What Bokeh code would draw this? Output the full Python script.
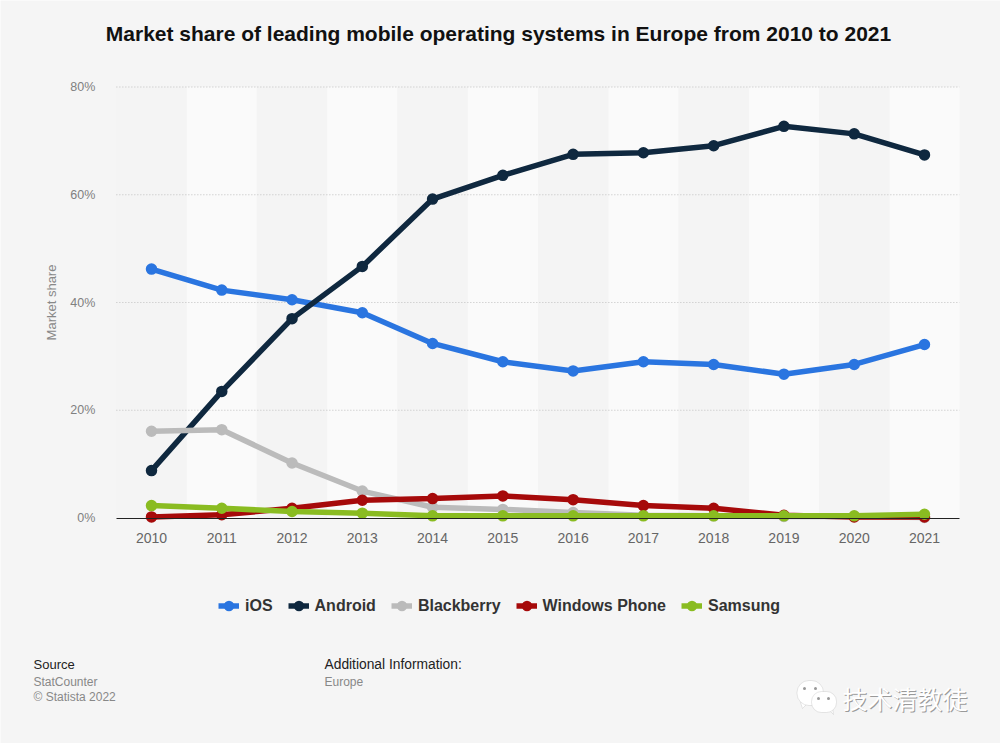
from bokeh.plotting import figure
from bokeh.embed import file_html
from bokeh.resources import INLINE
from bokeh.models import Label, Range1d, FixedTicker, Legend, LegendItem, BoxAnnotation, PolyAnnotation

years = list(range(2010, 2022))
ios = [46.2, 42.3, 40.5, 38.1, 32.4, 29.0, 27.3, 29.0, 28.5, 26.7, 28.5, 32.2]
android = [8.8, 23.5, 37.0, 46.7, 59.2, 63.6, 67.5, 67.8, 69.1, 72.7, 71.3, 67.4]
blackberry = [16.1, 16.4, 10.2, 5.0, 2.0, 1.6, 1.0, 0.5, 0.4, 0.3, 0.3, 0.1]
windows_phone = [0.2, 0.6, 1.8, 3.3, 3.6, 4.1, 3.4, 2.3, 1.8, 0.5, 0.2, 0.2]
samsung = [2.3, 1.8, 1.2, 0.9, 0.4, 0.4, 0.4, 0.4, 0.4, 0.4, 0.4, 0.7]
series = [("iOS", ios, "#2a75e0"), ("Android", android, "#0f283f"), ("Blackberry", blackberry, "#bbbbbb"),
          ("Windows Phone", windows_phone, "#a60a0a"), ("Samsung", samsung, "#8abc21")]
y_ticks = [0, 20, 40, 60, 80]

BG = "#f5f5f5"
FONT = "Liberation Sans"
W, H = 1000, 743
# page pixels of the plot area
X0_PX, X_STEP = 151, 70.27      # pixel of the first year, pixels per year
Y0_PX, Y_STEP = 517.5, 431 / 80  # pixel of 0 %, pixels per percent
LEFT = years[0] - 0.5
RIGHT = years[-1] + 0.5

p = figure(width=W, height=H, output_backend="svg", toolbar_location=None,
           x_range=Range1d(years[0] - X0_PX / X_STEP, years[0] + (W - X0_PX) / X_STEP),
           y_range=Range1d(-(H - Y0_PX) / Y_STEP, Y0_PX / Y_STEP),
           background_fill_color=BG, border_fill_color=BG, outline_line_color=None,
           min_border_left=0, min_border_right=0, min_border_top=0, min_border_bottom=0)

# alternating vertical bands
light = [y for y in years if y % 2 == 1]
dark = [y for y in years if y % 2 == 0]
p.quad(left=[y - .5 for y in light], right=[y + .5 for y in light], bottom=0, top=80,
       fill_color="#fafafa", line_color=None, level="underlay")
p.quad(left=[y - .5 for y in dark], right=[y + .5 for y in dark], bottom=0, top=80,
       fill_color="#f4f4f4", line_color=None, level="underlay")

# dotted grid over the plot area only
p.grid.visible = False
grid_ys = y_ticks[1:]
p.segment(x0=[LEFT] * len(grid_ys), x1=[RIGHT] * len(grid_ys), y0=grid_ys, y1=grid_ys,
          line_color="#c0c0c0", line_dash="1 2", line_width=1, level="underlay")

xa = p.xaxis[0]
xa.ticker = FixedTicker(ticks=years)
xa.fixed_location = 0
xa.bounds = (LEFT, RIGHT)
xa.axis_line_color = "#222222"
xa.axis_line_width = 1
xa.major_tick_line_color = None
xa.minor_tick_line_color = None
xa.major_label_standoff = 9
xa.major_label_text_font = FONT
xa.major_label_text_font_size = "14px"
xa.major_label_text_color = "#666666"

ya = p.yaxis[0]
ya.ticker = FixedTicker(ticks=y_ticks)
ya.fixed_location = LEFT
ya.major_label_overrides = {v: f"{v}%" for v in y_ticks}
ya.axis_line_color = None
ya.major_tick_line_color = None
ya.minor_tick_line_color = None
ya.major_label_standoff = 15
ya.major_label_text_font = FONT
ya.major_label_text_font_size = "12.5px"
ya.major_label_text_color = "#808080"

# series
items = []
for name, vals, col in series:
    l = p.line(years, vals, line_color=col, line_width=5.5)
    c = p.scatter(years, vals, size=9.5, fill_color=col, line_color=col, line_width=2)
    items.append(LegendItem(label=name, renderers=[l, c]))

legend = Legend(items=items, orientation="horizontal", location=(218, H - 606 - 10),
                background_fill_alpha=0, border_line_color=None, glyph_width=21, glyph_height=21,
                label_text_font=FONT, label_text_font_style="bold", label_text_font_size="16px",
                label_text_color="#333333", spacing=15, label_standoff=6, margin=0, padding=0)
p.add_layout(legend, "center")


def lab(text, x, y, size, color, bold=False, align="left", font=FONT, angle=0):
    """x, y: page pixels of the text's anchor."""
    p.add_layout(Label(x=x, y=H - y, x_units="screen", y_units="screen", text=text, text_font=font,
                       text_font_size=f"{size}px", text_color=color, text_align=align, text_baseline="alphabetic",
                       text_font_style="bold" if bold else "normal", angle=angle, angle_units="deg"))


lab("Market share of leading mobile operating systems in Europe from 2010 to 2021", 498, 33, 21, "#111111", True, "center")
lab("Market share", 51, 302, 13, "#888888", False, "center", angle=90)
lab("Source", 33, 664, 13, "#222222")
lab("StatCounter", 33, 681, 12, "#888888")
lab("© Statista 2022", 33, 696, 12, "#888888")
lab("Additional Information:", 324, 664, 13.8, "#222222")
lab("Europe", 324, 681, 12, "#888888")


def box(x0, y0, x1, y1, fill, line="#b0b0b0", r=0):
    p.add_layout(BoxAnnotation(left=x0, right=x1, bottom=H - y1, top=H - y0,
                               left_units="screen", right_units="screen", bottom_units="screen", top_units="screen",
                               fill_color=fill, fill_alpha=1, line_color=line, line_width=1, border_radius=r))


def tail(xs, ys):
    p.add_layout(PolyAnnotation(xs=xs, ys=[H - y for y in ys], xs_units="screen", ys_units="screen",
                                fill_color="#ffffff", fill_alpha=1, line_color="#b0b0b0", line_width=1))


# watermark
lab("技术清教徒", 843, 698, 25, "#9a9a9a", font="Noto Sans CJK SC")
lab("技术清教徒", 842, 697, 25, "#ffffff", font="Noto Sans CJK SC")
tail([800, 802, 808], [702, 708, 702])
box(796.5, 680, 823, 705, "#ffffff", r=12)
tail([828, 833, 832], [709, 714, 707])
box(811, 691, 836, 712, "#ffffff", r=10)
for ex, ey in [(804, 688), (815, 688), (818, 698), (828, 698)]:
    box(ex - 1.5, ey - 1.5, ex + 1.5, ey + 1.5, "#999999", None, 2)

open("out.html", "w").write(file_html(p, INLINE))
